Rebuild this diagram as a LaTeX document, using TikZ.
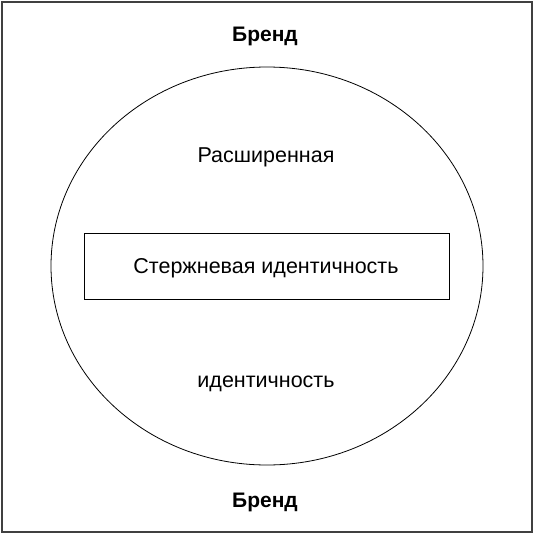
\documentclass[tikz,border=0pt]{standalone}
\usepackage{fontspec}
\setmainfont{Liberation Sans}
\usetikzlibrary{shapes.geometric}
\begin{document}
\begin{tikzpicture}[x=1pt,y=-1pt,
  lbl/.style={font=\fontsize{21.5}{24}\selectfont, inner sep=0pt, anchor=base},
  brand/.style={font=\fontsize{21}{24}\selectfont\bfseries, inner sep=0pt, anchor=base}]
\useasboundingbox (0,0) rectangle (533,533);
\draw[line width=2pt, black!75] (1.5,1.5) rectangle (531.5,531.5);
\node[draw, ellipse, minimum width=432pt, minimum height=398pt, inner sep=0pt, line width=0.8pt] (ell) at (267,266) {};
\node[draw, rectangle, minimum width=365pt, minimum height=66pt, inner sep=0pt, line width=0.8pt] (core) at (266.5,266) {};
\node[lbl] (coretext) at (266,273.3) {Стержневая идентичность};
\node[brand] (btop) at (265,41.7) {Бренд};
\node[brand] (bbot) at (265,507) {Бренд};
\node[lbl] (ext1) at (266,162.7) {Расширенная};
\node[lbl] (ext2) at (266,387.3) {идентичность};
\end{tikzpicture}
\end{document}
